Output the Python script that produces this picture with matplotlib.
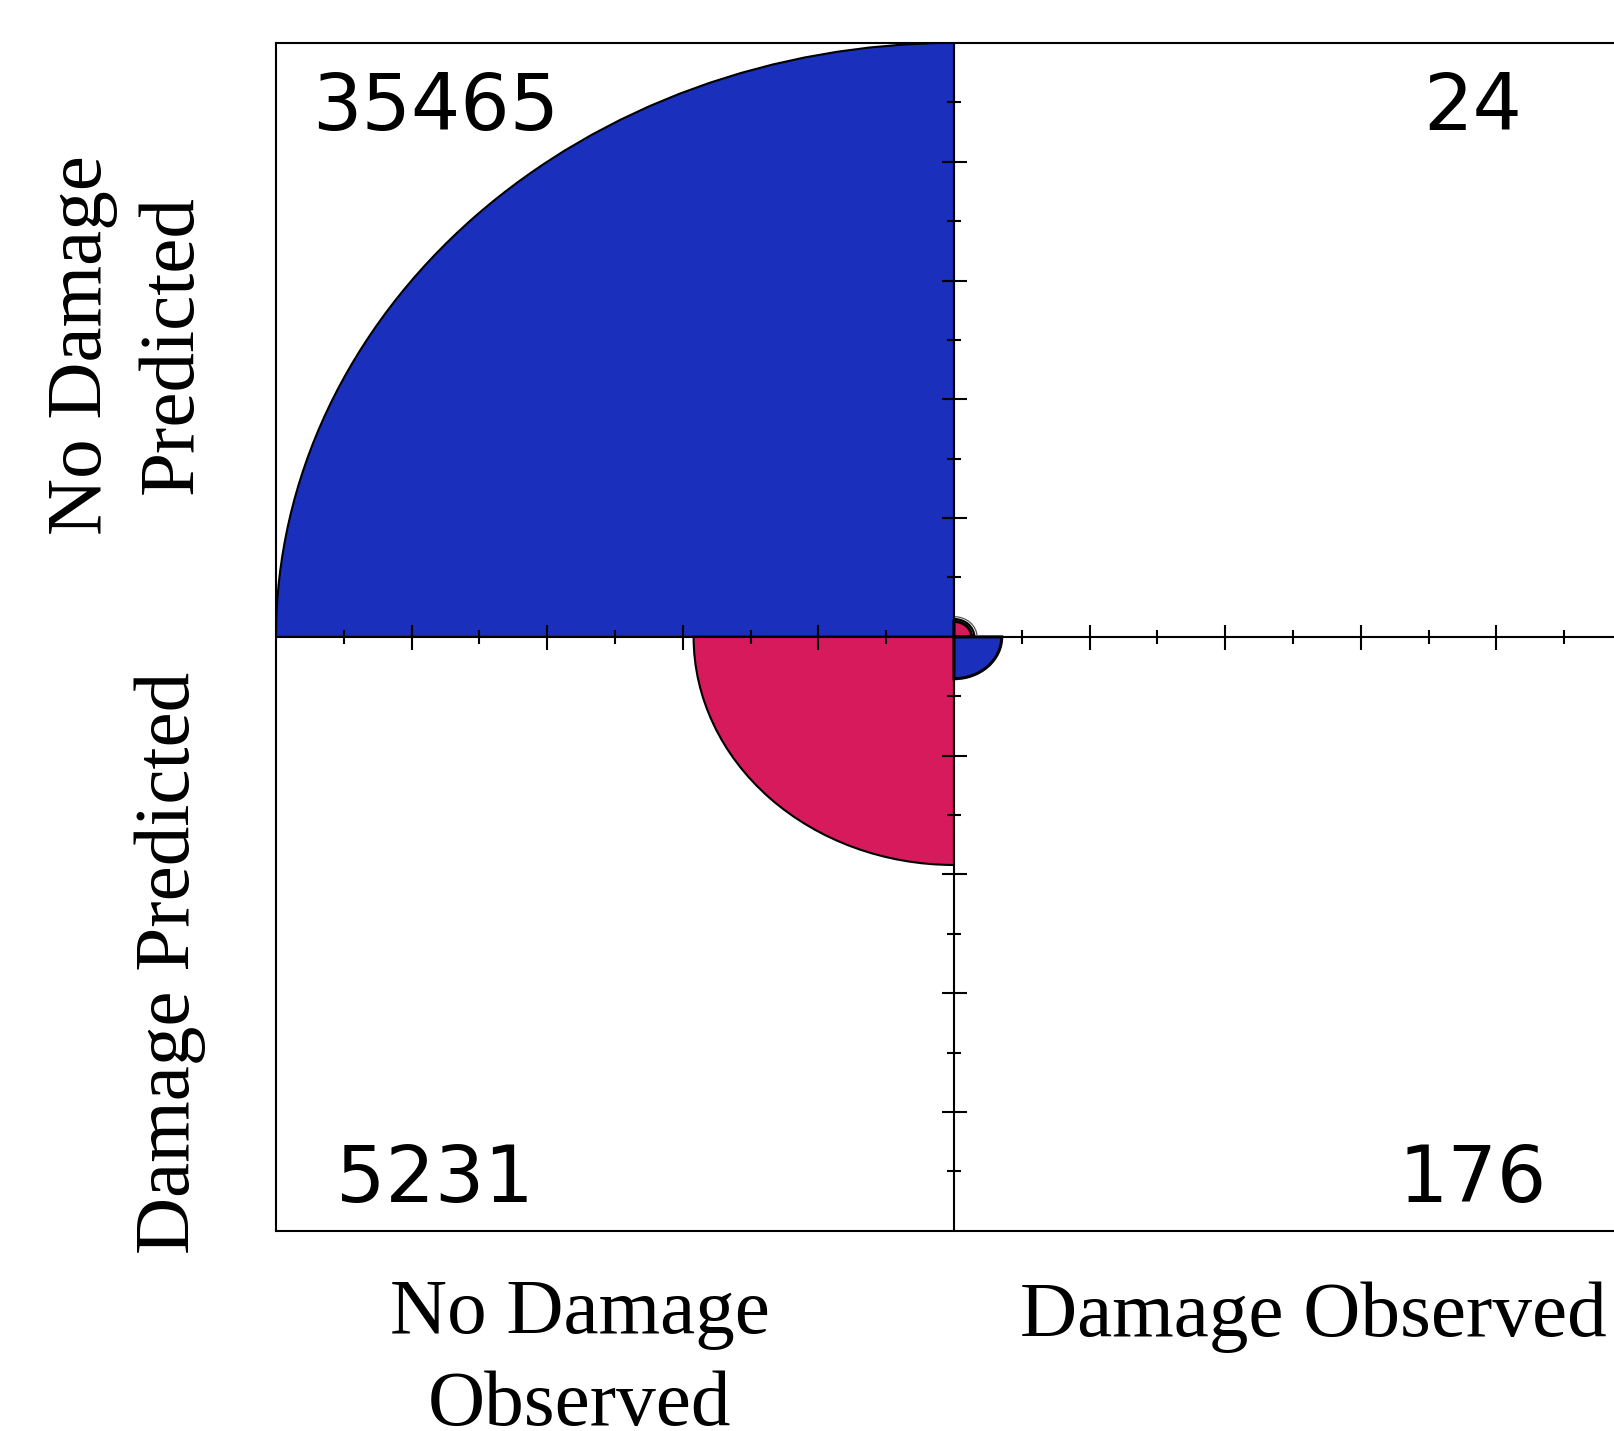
import numpy as np
import matplotlib.pyplot as plt
from matplotlib.patches import Wedge, Arc

# 2x2 table: observed (columns) vs predicted (rows)
quadrants = ["no_obs_no_pred", "dmg_obs_no_pred", "no_obs_dmg_pred", "dmg_obs_dmg_pred"]
counts = [35465, 24, 5231, 176]
# start angle of each quarter wedge (degrees)
angles = [90, 0, 180, 270]
colors = ["#1a2fbb", "#d61a5c", "#d61a5c", "#1a2fbb"]
# text position of each count (quadrant fraction)
label_x = [-0.765, 0.765, -0.765, 0.765]
label_y = [0.89, 0.89, -0.915, -0.915]

# confidence ring radii for the small upper-right cell
ring_radii = [0.030, 0.034]

col_labels = ["No Damage\nObserved", "Damage Observed"]
row_labels = ["No Damage\nPredicted", "Damage Predicted"]

radii = np.sqrt(np.array(counts) / max(counts))

fig = plt.figure(figsize=(16.15, 14.31), dpi=100)
ax = fig.add_axes([0.1709, 0.1399, 0.8396, 0.8301])
ax.set_xlim(-1, 1)
ax.set_ylim(-1, 1)
ax.set_xticks([])
ax.set_yticks([])
for sp in ax.spines.values():
    sp.set_linewidth(1.5)

for r, a, c in zip(radii, angles, colors):
    lw = 2.2 if r < 0.1 else 1.5
    ax.add_patch(Wedge((0, 0), r, a, a + 90, facecolor=c, edgecolor="black",
                       linewidth=lw, zorder=2))

for rr, lw, col in zip(ring_radii, [1.6, 0.9], ["black", "#555555"]):
    ax.add_patch(Arc((0, 0), 2 * rr, 2 * rr, theta1=0, theta2=90,
                     color=col, linewidth=lw, zorder=3))

# axis cross through the centre
ax.axhline(0, color="black", linewidth=1.5, zorder=4)
ax.axvline(0, color="black", linewidth=1.5, zorder=4)

# ticks every 0.1, longer at even steps
steps = np.arange(1, 10)
pos = np.concatenate([-steps, steps]) / 10
major = pos[np.isclose(np.abs(pos * 10) % 2, 0)]
minor = pos[~np.isclose(np.abs(pos * 10) % 2, 0)]
for p, ms in [(major, 18), (minor, 9.5)]:
    ax.plot(p, np.zeros_like(p), ls="none", marker="|", markersize=ms,
            markeredgewidth=1.5, color="black", zorder=5, clip_on=False)
    ax.plot(np.zeros_like(p), p, ls="none", marker="_", markersize=ms,
            markeredgewidth=1.5, color="black", zorder=5, clip_on=False)

for n, x, y in zip(counts, label_x, label_y):
    ax.text(x, y, str(n), ha="center", va="center", fontsize=56,
            family="DejaVu Sans", zorder=6)

serif = "Liberation Serif"
fig.text(580 / 1615, 1 - 1278 / 1431, col_labels[0], ha="center", va="top",
         fontsize=57, family=serif, linespacing=1.38)
fig.text(1313 / 1615, 1 - 1336 / 1431, col_labels[1], ha="center", va="baseline",
         fontsize=57, family=serif)
fig.text(128 / 1615, 1 - 345 / 1431, row_labels[0], ha="center", va="center",
         rotation=90, fontsize=57, family=serif, linespacing=1.35)
fig.text(170 / 1615, 1 - 963 / 1431, row_labels[1], ha="center", va="center",
         rotation=90, fontsize=57, family=serif)

fig.savefig("out.png", dpi=100)
